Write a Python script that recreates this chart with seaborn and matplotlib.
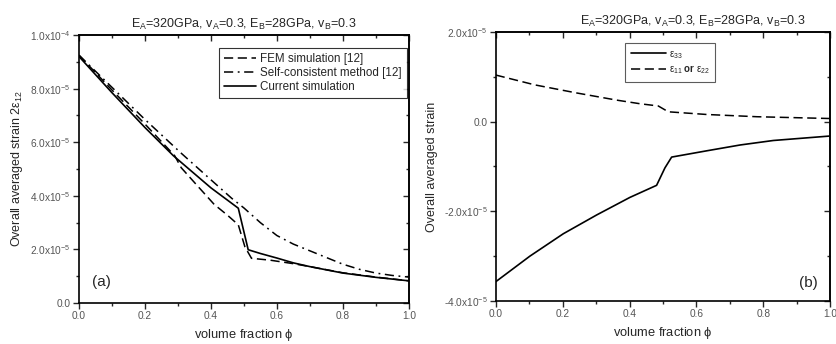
import numpy as np
import pandas as pd
import seaborn as sns
import matplotlib
matplotlib.use("Agg")
import matplotlib.pyplot as plt
from matplotlib.ticker import MultipleLocator, FuncFormatter

# panel (a): shear strain 2*eps12 vs volume fraction
fem_phi = [0.0, 0.1, 0.2, 0.29, 0.31, 0.35, 0.41, 0.45, 0.483, 0.503, 0.523, 0.58, 0.65, 0.7, 0.8, 0.9, 1.0]
fem_val = [9.25, 7.95, 6.68, 5.5, 5.05, 4.5, 3.68, 3.28, 2.92, 2.1, 1.67, 1.6, 1.47, 1.36, 1.13, 0.97, 0.83]

sc_phi = [0.0, 0.1, 0.2, 0.311, 0.4, 0.463, 0.5, 0.55, 0.6, 0.65, 0.7, 0.75, 0.8, 0.85, 0.9, 0.95, 1.0]
sc_val = [9.25, 8.05, 6.85, 5.58, 4.6, 3.91, 3.55, 3.0, 2.52, 2.2, 1.95, 1.7, 1.45, 1.26, 1.12, 1.03, 0.97]

cur_phi = [0.0, 0.1, 0.2, 0.286, 0.4, 0.483, 0.513, 0.55, 0.6, 0.65, 0.7, 0.8, 0.9, 1.0]
cur_val = [9.2, 7.85, 6.55, 5.5, 4.3, 3.54, 1.99, 1.85, 1.68, 1.5, 1.36, 1.12, 0.96, 0.83]

# panel (b): normal strains
e33_phi = [0.0, 0.102, 0.202, 0.302, 0.401, 0.481, 0.506, 0.526, 0.631, 0.731, 0.83, 1.0]
e33_val = [-3.57, -3.0, -2.5, -2.08, -1.69, -1.42, -1.03, -0.79, -0.65, -0.52, -0.42, -0.32]

e11_phi = [0.0, 0.117, 0.242, 0.362, 0.431, 0.486, 0.516, 0.631, 0.781, 1.0]
e11_val = [1.04, 0.82, 0.64, 0.48, 0.40, 0.35, 0.22, 0.16, 0.11, 0.07]

title = r"E$_A$=320GPa, v$_A$=0.3, E$_B$=28GPa, v$_B$=0.3"

sns.set_theme(style="ticks")
plt.rcParams["font.family"] = ["Liberation Sans", "DejaVu Sans"]
plt.rcParams["mathtext.fontset"] = "custom"
plt.rcParams["mathtext.rm"] = "Liberation Sans"
plt.rcParams["mathtext.it"] = "Liberation Sans"
plt.rcParams["mathtext.bf"] = "Liberation Sans:bold"


def sci_fmt(v, pos):
    if abs(v) < 1e-12:
        return "0.0"
    e = int(np.floor(np.log10(abs(v))))
    m = v / 10 ** e
    return r"%.1fx10$^{%d}$" % (m, e)


def style_axes(ax, ymaj, ymin_, ylo, yhi):
    ax.set_xlim(0, 1)
    ax.set_ylim(ylo, yhi)
    ax.xaxis.set_major_locator(MultipleLocator(0.2))
    ax.xaxis.set_minor_locator(MultipleLocator(0.1))
    ax.yaxis.set_major_locator(MultipleLocator(ymaj))
    ax.yaxis.set_minor_locator(MultipleLocator(ymin_))
    ax.yaxis.set_major_formatter(FuncFormatter(sci_fmt))
    ax.xaxis.set_major_formatter(FuncFormatter(lambda v, p: "%.1f" % v))
    ax.tick_params(which="major", direction="out", length=4, width=1, labelsize=7.3, labelcolor="#555555", pad=2)
    ax.tick_params(which="minor", direction="out", length=2.5, width=1)
    for s in ax.spines.values():
        s.set_linewidth(1.2)
        s.set_color("black")
    # mirrored inward ticks on top and right
    top = ax.secondary_xaxis("top")
    top.xaxis.set_major_locator(MultipleLocator(0.2))
    top.xaxis.set_minor_locator(MultipleLocator(0.1))
    top.tick_params(which="major", direction="in", length=4, width=1, labeltop=False)
    top.tick_params(which="minor", direction="in", length=2.5, width=1)
    right = ax.secondary_yaxis("right")
    right.yaxis.set_major_locator(MultipleLocator(ymaj))
    right.yaxis.set_minor_locator(MultipleLocator(ymin_))
    right.tick_params(which="major", direction="in", length=4, width=1, labelright=False)
    right.tick_params(which="minor", direction="in", length=2.5, width=1)
    ax.set_xlabel(r"volume fraction $\phi$", fontsize=9.3, labelpad=4)


fig = plt.figure(figsize=(8.36, 3.44), dpi=100)
ax1 = fig.add_axes([0.0945, 0.119, 0.3945, 0.779])
ax2 = fig.add_axes([0.593, 0.125, 0.400, 0.782])

sc = 1e-5
sns.lineplot(x=fem_phi, y=np.array(fem_val) * sc, ax=ax1, color="black", lw=1.1,
             linestyle=(0, (6, 3)), label="FEM simulation [12]")
sns.lineplot(x=sc_phi, y=np.array(sc_val) * sc, ax=ax1, color="black", lw=1.1,
             linestyle=(0, (6, 3, 1.2, 3)), label="Self-consistent method [12]")
sns.lineplot(x=cur_phi, y=np.array(cur_val) * sc, ax=ax1, color="black", lw=1.2,
             linestyle="-", label="Current simulation")
style_axes(ax1, 2e-5, 1e-5, 0, 1e-4)
ax1.set_ylabel(r"Overall averaged strain 2$\varepsilon_{12}$", fontsize=9, labelpad=4)
ax1.set_title(title, fontsize=9, pad=5)
ax1.text(0.04, 0.078, "(a)", transform=ax1.transAxes, fontsize=11, va="center")
leg1 = ax1.legend(loc="upper right", bbox_to_anchor=(0.995, 0.951), fontsize=8.4,
                  frameon=True, fancybox=False, edgecolor="black", borderaxespad=0,
                  handlelength=2.7, labelspacing=0.15, borderpad=0.45, handletextpad=0.4)
leg1.get_frame().set_linewidth(0.8)

sns.lineplot(x=e33_phi, y=np.array(e33_val) * sc, ax=ax2, color="black", lw=1.2,
             linestyle="-", label=r"$\varepsilon_{33}$")
sns.lineplot(x=e11_phi, y=np.array(e11_val) * sc, ax=ax2, color="black", lw=1.1,
             linestyle=(0, (6, 3)), label=r"$\varepsilon_{11}$ $\mathbf{or}$ $\varepsilon_{22}$")
style_axes(ax2, 2e-5, 1e-5, -4e-5, 2e-5)
ax2.set_ylabel("Overall averaged strain", fontsize=9, labelpad=4)
ax2.set_title(title, fontsize=9, pad=5, x=0.59)
ax2.text(0.964, 0.067, "(b)", transform=ax2.transAxes, fontsize=11, va="center", ha="right")
leg2 = ax2.legend(loc="upper left", bbox_to_anchor=(0.386, 0.959), fontsize=7,
                  frameon=True, fancybox=False, edgecolor="#333333", borderaxespad=0,
                  handlelength=3.6, labelspacing=0.3, borderpad=0.6, handletextpad=0.3)
leg2.get_frame().set_linewidth(0.8)

fig.savefig("out.png", dpi=100)
